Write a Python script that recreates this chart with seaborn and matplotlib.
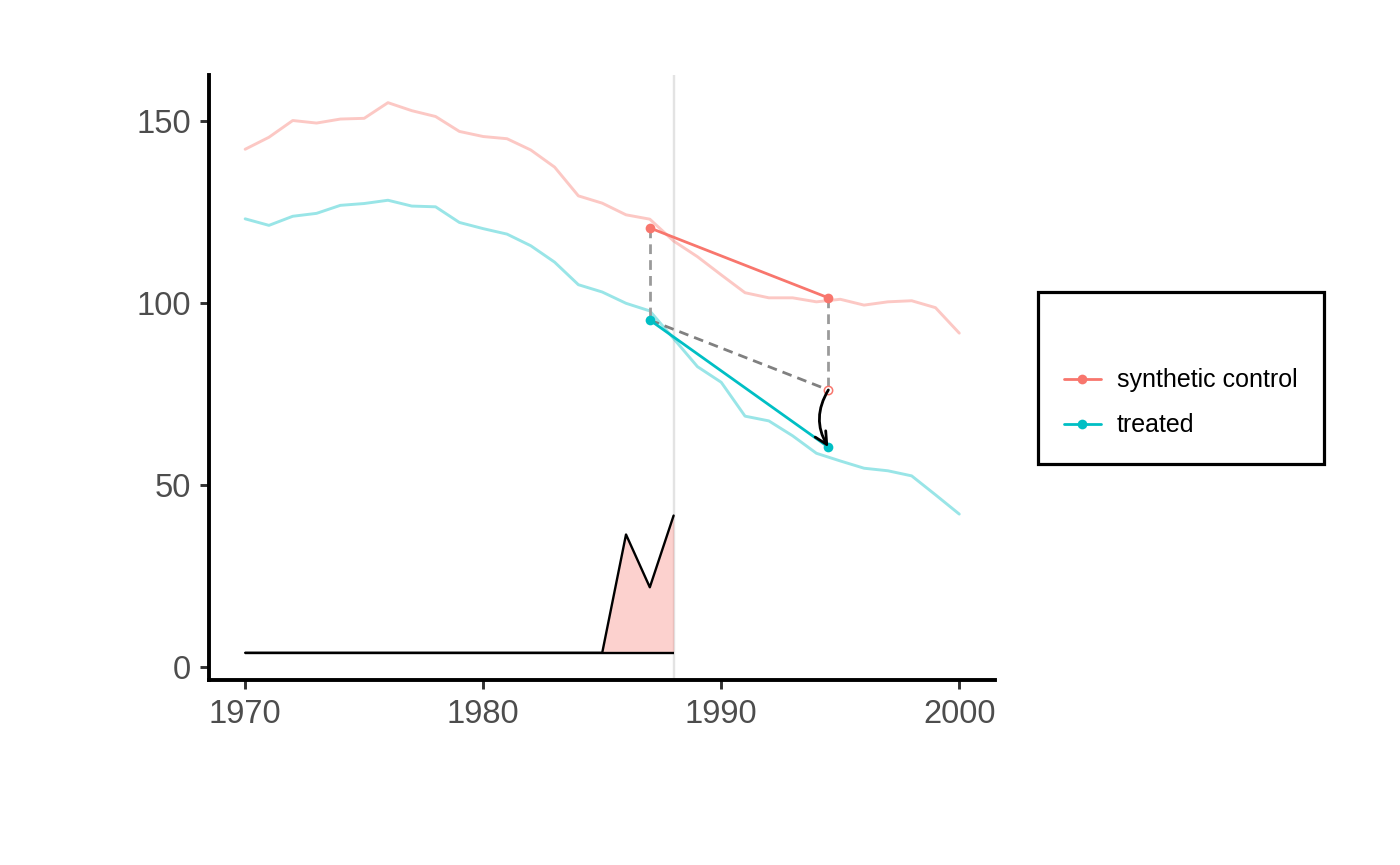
import numpy as np
import matplotlib
matplotlib.use('Agg')
import matplotlib.pyplot as plt
from matplotlib.lines import Line2D
import seaborn as sns

# Yearly series
years = list(range(1970, 2001))
synthetic = [142.2, 145.5, 150.1, 149.4, 150.5, 150.7, 155.0, 152.8, 151.2, 147.1,
             145.7, 145.1, 142.0, 137.3, 129.4, 127.4, 124.2, 123.0, 117.0, 112.7,
             107.7, 102.8, 101.4, 101.4, 100.3, 101.0, 99.4, 100.3, 100.6, 98.7, 91.7]
treated = [123.1, 121.3, 123.8, 124.6, 126.8, 127.3, 128.2, 126.6, 126.4, 122.1,
           120.4, 118.9, 115.7, 111.2, 105.0, 103.0, 99.9, 97.8, 90.2, 82.5,
           78.2, 68.9, 67.6, 63.5, 58.7, 56.6, 54.6, 53.9, 52.5, 47.3, 42.0]

# Pre / post averages
treat_year = 1988
event_years = [1987, 1994.5]
synth_mean = [120.6, 101.4]
treated_mean = [95.3, 60.4]
counterfactual = treated_mean[0] + (synth_mean[1] - synth_mean[0])

# Time weights (bottom panel)
weight_years = list(range(1970, 1989))
weight_vals = [3.9, 3.9, 3.9, 3.9, 3.9, 3.9, 3.9, 3.9, 3.9, 3.9,
               3.9, 3.9, 3.9, 3.9, 3.9, 3.9, 36.4, 21.9, 41.6]
weight_base = 3.9

red = '#F8766D'
cyan = '#00BFC4'

sns.set_style('ticks')
plt.rcParams['font.family'] = ['Liberation Sans', 'DejaVu Sans']

fig = plt.figure(figsize=(14, 8.65), dpi=100)
ax = fig.add_axes([0.1496, 0.2133, 0.5611, 0.7000])

# faded full series
sns.lineplot(x=years, y=synthetic, color=red, alpha=0.4, linewidth=2.1, ax=ax)
sns.lineplot(x=years, y=treated, color=cyan, alpha=0.4, linewidth=2.1, ax=ax)

# treatment start
ax.axvline(treat_year, color='#E3E3E3', linewidth=1.7, zorder=1)

# weights area
ax.fill_between(weight_years, weight_base, weight_vals, color=red, alpha=0.33, linewidth=0)
ax.hlines(weight_base, weight_years[0], weight_years[-1], color='black', linewidth=1.7)
sns.lineplot(x=weight_years, y=weight_vals, color='black', linewidth=1.7, ax=ax)

# dashed guides
dash = (0, (3.5, 2.2))
ax.plot([event_years[0], event_years[0]], [synth_mean[0], treated_mean[0]],
        color='#9A9A9A', linestyle=dash, linewidth=2)
ax.plot([event_years[1], event_years[1]], [synth_mean[1], counterfactual],
        color='#9A9A9A', linestyle=dash, linewidth=2)
ax.plot([event_years[0], event_years[1]], [treated_mean[0], counterfactual],
        color='#808080', linestyle=dash, linewidth=2)

# highlighted pre/post segments
sns.lineplot(x=event_years, y=synth_mean, color=red, linewidth=2, marker='o',
             markersize=7, markeredgewidth=0, ax=ax)
sns.lineplot(x=event_years, y=treated_mean, color=cyan, linewidth=2, marker='o',
             markersize=7, markeredgewidth=0, ax=ax)
ax.plot([event_years[1]], [counterfactual], marker='o', markersize=6,
        markerfacecolor='white', markeredgecolor=red, markeredgewidth=1.1, linestyle='none')

# curved arrow to treated
ax.annotate('', xy=(event_years[1], treated_mean[1]), xytext=(event_years[1], counterfactual),
            arrowprops=dict(arrowstyle='->', connectionstyle='arc3,rad=0.3', color='black',
                            lw=2, shrinkA=0, shrinkB=0, mutation_scale=22))

ax.set_xlim(1968.5, 2001.5)
ax.set_ylim(-3.7, 162.6)
ax.set_xticks([1970, 1980, 1990, 2000])
ax.set_yticks([0, 50, 100, 150])
ax.set_xlabel('')
ax.set_ylabel('')
sns.despine(ax=ax)
for side in ['left', 'bottom']:
    ax.spines[side].set_linewidth(2.8)
    ax.spines[side].set_color('black')
ax.tick_params(length=6.5, width=2.1, color='#333333', labelsize=23.5,
               labelcolor='#4D4D4D', pad=7)

handles = [Line2D([0], [0], color=red, lw=2, marker='o', markersize=7, markeredgewidth=0),
           Line2D([0], [0], color=cyan, lw=2, marker='o', markersize=7, markeredgewidth=0)]
leg = ax.legend(handles, ['synthetic control', 'treated'], title=' ', title_fontsize=22,
                loc='center left', bbox_to_anchor=(1038 / 1400, 1 - 377.5 / 865),
                bbox_transform=fig.transFigure, borderaxespad=0, fontsize=18,
                handlelength=1.45, handletextpad=0.65, labelspacing=0.83,
                borderpad=1.05, fancybox=False, framealpha=1, edgecolor='black',
                labelcolor='black')
leg.get_frame().set_linewidth(2.3)

fig.savefig('out.png', dpi=100)
